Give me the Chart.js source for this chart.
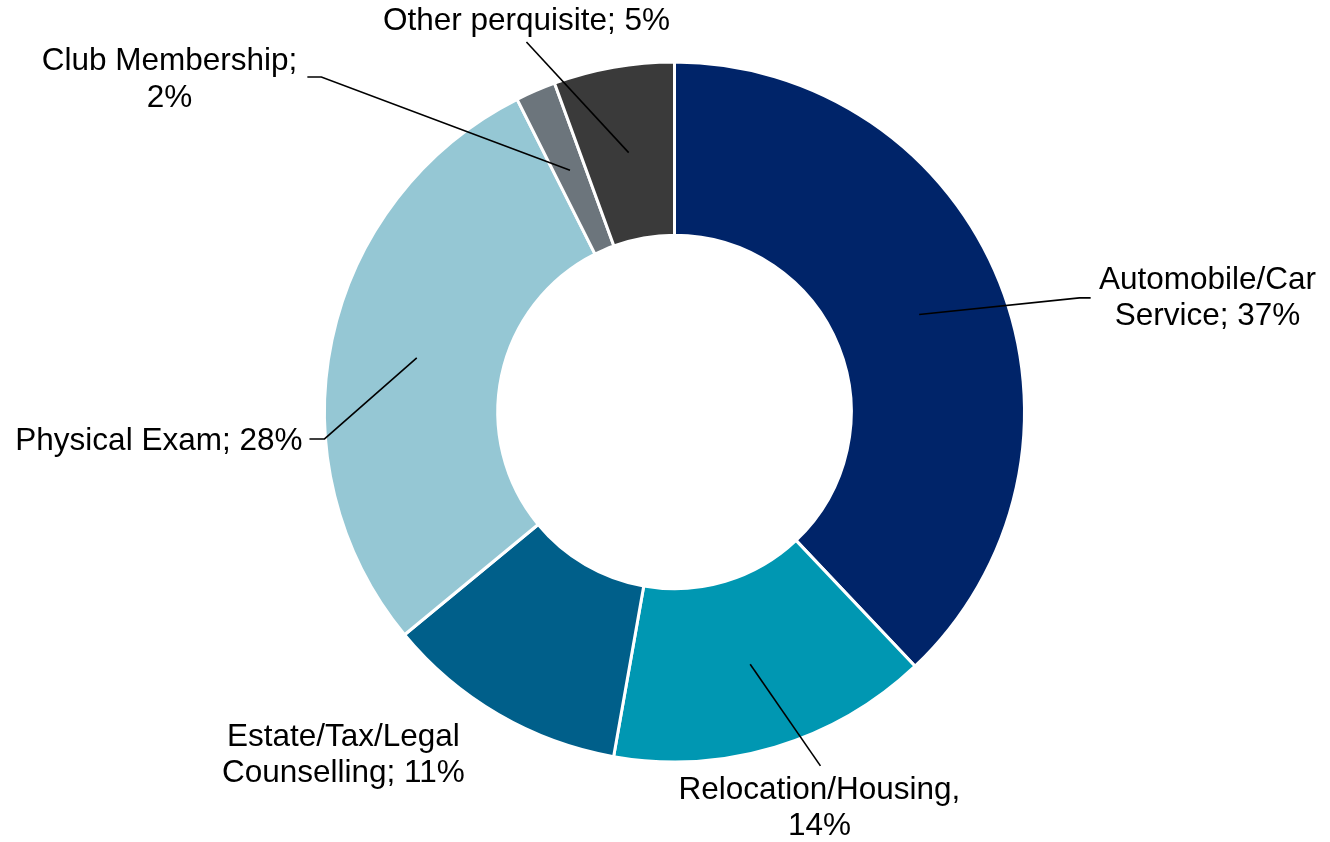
<!DOCTYPE html>
<html>
<head>
<meta charset="utf-8">
<script src="https://cdn.jsdelivr.net/npm/chart.js@4/dist/chart.umd.min.js"></script>
<style>
  html, body { margin: 0; padding: 0; background: #ffffff; }
  #wrap { position: relative; width: 1330px; height: 842px; }
</style>
</head>
<body>
<div id="wrap"><canvas id="c" width="1330" height="842"></canvas></div>
<script>
// ---- data ----
const categories = ['Automobile/Car Service', 'Relocation/Housing', 'Estate/Tax/Legal Counselling', 'Physical Exam', 'Club Membership', 'Other perquisite'];
const values = [36.8, 14.4, 10.9, 27.7, 1.8, 5.4];
const pct = values.map(v => Math.round(v) + '%');
const dataLabels = [
  ['Automobile/Car', 'Service; ' + pct[0]],
  ['Relocation/Housing,', pct[1]],
  ['Estate/Tax/Legal', 'Counselling; ' + pct[2]],
  ['Physical Exam; ' + pct[3]],
  ['Club Membership;', pct[4]],
  ['Other perquisite; ' + pct[5]]
];
const colors = ['#002469', '#0097B2', '#005F8A', '#95C7D4', '#6C757C', '#3A3A3A'];

// ---- label layout (in units of outer radius, relative to the doughnut centre) ----
const labelLayout = [
  { text: [1.523, -0.325], align: 'center', leader: [[1.157, -0.326], [1.189, -0.326]] },
  { text: [0.414, 1.133], align: 'center', leader: [[0.417, 1.011]] },
  { text: [-0.946, 0.981], align: 'center', leader: null },
  { text: [-1.063, 0.083], align: 'right', leader: [[-1.0, 0.077], [-1.043, 0.077]] },
  { text: [-1.443, -0.949], align: 'center', leader: [[-1.009, -0.957], [-1.049, -0.957]] },
  { text: [-0.423, -1.117], align: 'center', leader: [[-0.423, -1.057]] }
];

const FONT_SIZE = 31.5;
const LINE_H = 36.5;

const labelPlugin = {
  id: 'leaderLabels',
  afterDatasetsDraw(chart) {
    const ctx = chart.ctx;
    const meta = chart.getDatasetMeta(0);
    meta.data.forEach((arc, i) => {
      const p = arc.getProps(['x', 'y', 'startAngle', 'endAngle', 'innerRadius', 'outerRadius'], true);
      const R = p.outerRadius;
      const mid = (p.startAngle + p.endAngle) / 2;
      const rm = (p.innerRadius + p.outerRadius) / 2;
      const sx = p.x + Math.cos(mid) * rm;
      const sy = p.y + Math.sin(mid) * rm;
      const L = labelLayout[i];
      ctx.save();
      if (L.leader) {
        ctx.beginPath();
        ctx.moveTo(sx, sy);
        L.leader.forEach(pt => ctx.lineTo(p.x + pt[0] * R, p.y + pt[1] * R));
        ctx.strokeStyle = '#000000';
        ctx.lineWidth = 1.6;
        ctx.stroke();
      }
      const lines = dataLabels[i];
      const tx = p.x + L.text[0] * R;
      const ty = p.y + L.text[1] * R;
      ctx.font = FONT_SIZE + "px 'Liberation Sans', Arial, sans-serif";
      ctx.fillStyle = '#000000';
      ctx.textAlign = L.align;
      ctx.textBaseline = 'middle';
      const top = ty - (lines.length - 1) * LINE_H / 2;
      lines.forEach((ln, k) => ctx.fillText(ln, tx, top + k * LINE_H));
      ctx.restore();
    });
  }
};

new Chart(document.getElementById('c'), {
  type: 'doughnut',
  data: {
    labels: categories,
    datasets: [{
      data: values,
      backgroundColor: colors,
      borderColor: '#ffffff',
      borderWidth: 3,
      hoverOffset: 0
    }]
  },
  options: {
    responsive: false,
    animation: false,
    cutout: '50.5%',
    radius: 350,
    layout: { padding: { left: 323, right: 304, top: 60, bottom: 78 } },
    plugins: {
      legend: { display: false },
      tooltip: { enabled: false }
    }
  },
  plugins: [labelPlugin]
});
</script>
</body>
</html>
